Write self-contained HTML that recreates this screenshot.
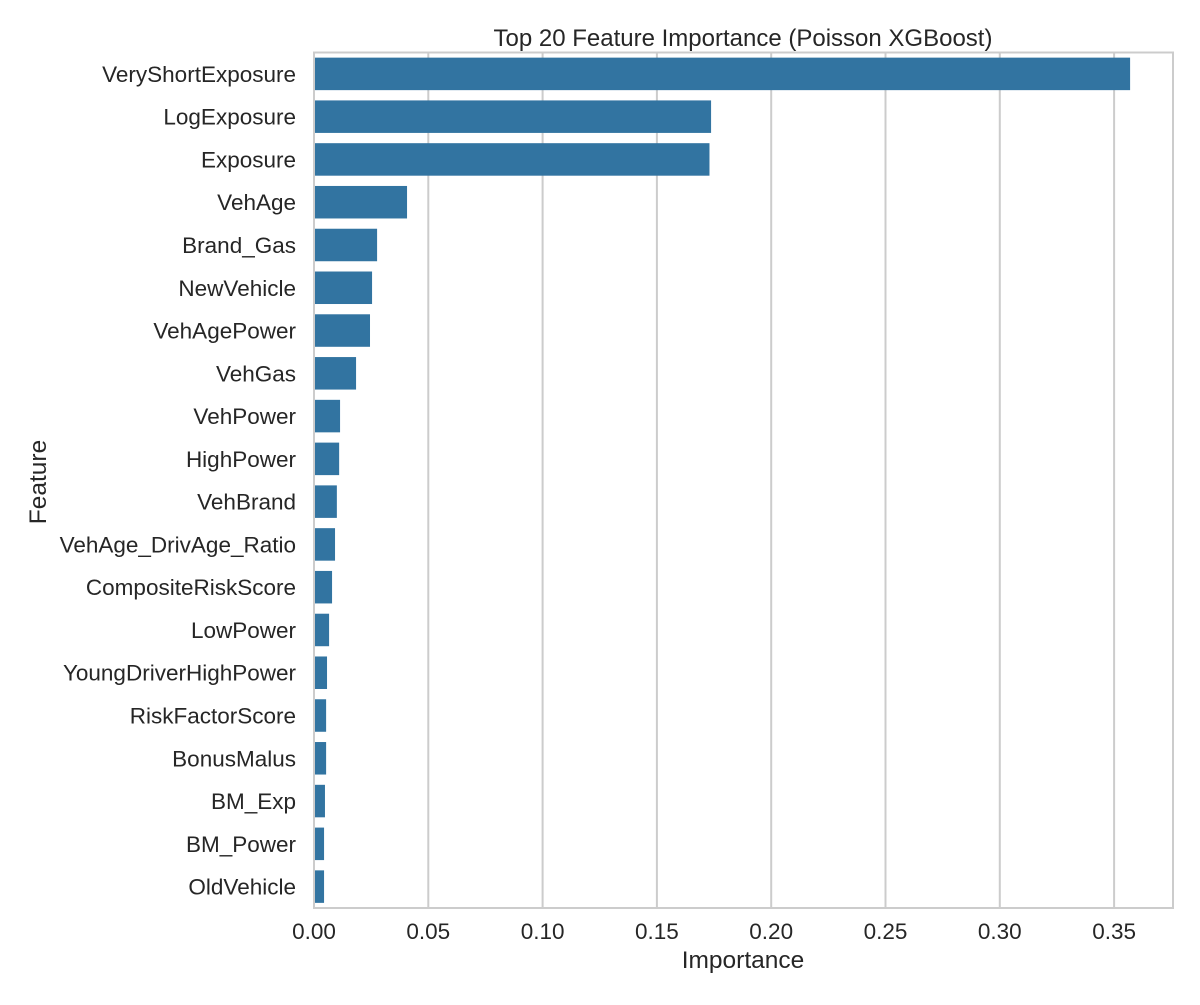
<!DOCTYPE html>
<html><head><meta charset="utf-8"><style>
body{margin:0;background:#fff;}
svg text{font-family:"Liberation Sans",Arial,sans-serif;fill:#262626;}
</style></head><body>
<svg id="chart" width="1200" height="1000" xmlns="http://www.w3.org/2000/svg">
<rect width="1200" height="1000" fill="#fff"/>
<g id="grid"></g><g id="bars"></g><g id="ylabels"></g><g id="xlabels"></g>
<rect x="314" y="52.5" width="859" height="855.5" fill="none" stroke="#cccccc" stroke-width="2"/>
<text x="743" y="46" font-size="24" text-anchor="middle">Top 20 Feature Importance (Poisson XGBoost)</text>
<text x="743" y="968" font-size="24.5" text-anchor="middle">Importance</text>
<text x="46" y="482" font-size="24.5" text-anchor="middle" transform="rotate(-90 46 482)">Feature</text>
</svg>
<script>
const features=["VeryShortExposure","LogExposure","Exposure","VehAge","Brand_Gas","NewVehicle","VehAgePower","VehGas","VehPower","HighPower","VehBrand","VehAge_DrivAge_Ratio","CompositeRiskScore","LowPower","YoungDriverHighPower","RiskFactorScore","BonusMalus","BM_Exp","BM_Power","OldVehicle"];
const importance=[0.357,0.1737,0.173,0.0407,0.0276,0.0254,0.0245,0.0184,0.0114,0.011,0.010,0.0092,0.0079,0.0066,0.0057,0.0053,0.0053,0.0048,0.0044,0.0044];
const xTicks=[0,0.05,0.10,0.15,0.20,0.25,0.30,0.35];
const xTickLabels=["0.00","0.05","0.10","0.15","0.20","0.25","0.30","0.35"];
const NS="http://www.w3.org/2000/svg";
const x0=314,xScale=2286,yTop=52.5,yBot=908;
const band=(yBot-yTop)/features.length;
function xPos(v){return x0+v*xScale;}
function yPos(i){return yTop+band*(i+0.5);}
const grid=document.getElementById('grid'),bars=document.getElementById('bars'),yl=document.getElementById('ylabels'),xl=document.getElementById('xlabels');
xTicks.forEach((t,i)=>{
  const l=document.createElementNS(NS,'line');
  
  
  l.setAttribute('x1',xPos(t));l.setAttribute('x2',xPos(t));l.setAttribute('y1',yTop);l.setAttribute('y2',yBot);
  l.setAttribute('stroke','#cccccc');l.setAttribute('stroke-width','2');
  grid.appendChild(l);
  const tx=document.createElementNS(NS,'text');
  
  
  tx.setAttribute('x',xPos(t));tx.setAttribute('y',939);tx.setAttribute('font-size','22.5');tx.setAttribute('text-anchor','middle');
  tx.textContent=xTickLabels[i];xl.appendChild(tx);
});
const bh=band*0.76;
features.forEach((f,i)=>{
  const r=document.createElementNS(NS,'rect');
  
  
  r.setAttribute('x',x0+1);r.setAttribute('y',yPos(i)-bh/2);
  r.setAttribute('width',Math.max(0,xPos(importance[i])-x0-1));r.setAttribute('height',bh);
  r.setAttribute('fill','#3274a1');bars.appendChild(r);
  const t=document.createElementNS(NS,'text');
  
  
  t.setAttribute('x',296);t.setAttribute('y',yPos(i)+8);t.setAttribute('font-size','22.5');t.setAttribute('text-anchor','end');
  t.textContent=f;yl.appendChild(t);
});
</script>
</body></html>
